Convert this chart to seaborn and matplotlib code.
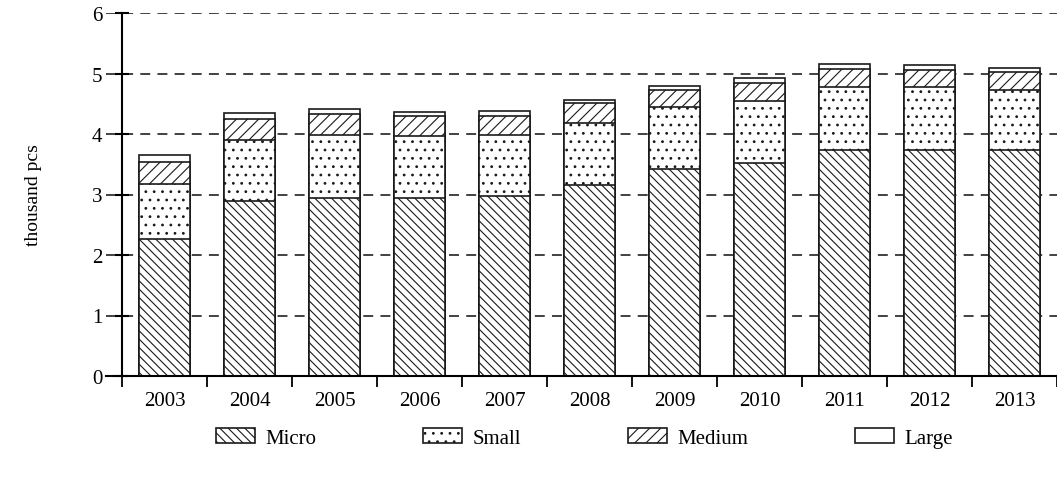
import matplotlib
matplotlib.use("Agg")
import matplotlib.pyplot as plt
import numpy as np
import pandas as pd
import seaborn as sns

# Enterprise counts by size class, thousand pieces
years = ["2003", "2004", "2005", "2006", "2007", "2008",
         "2009", "2010", "2011", "2012", "2013"]
micro = [2.26, 2.89, 2.94, 2.94, 2.97, 3.16, 3.42, 3.52, 3.73, 3.74, 3.74]
small = [0.92, 1.01, 1.05, 1.03, 1.01, 1.02, 1.02, 1.03, 1.05, 1.03, 0.99]
medium = [0.35, 0.35, 0.34, 0.32, 0.32, 0.33, 0.28, 0.30, 0.29, 0.29, 0.29]
large = [0.12, 0.09, 0.08, 0.08, 0.08, 0.06, 0.08, 0.08, 0.08, 0.08, 0.07]
y_ticks = [0, 1, 2, 3, 4, 5, 6]

df = pd.DataFrame({"year": years, "Micro": micro, "Small": small,
                   "Medium": medium, "Large": large})
# cumulative tops of each stacked segment
df["top_micro"] = df["Micro"]
df["top_small"] = df["top_micro"] + df["Small"]
df["top_medium"] = df["top_small"] + df["Medium"]
df["top_large"] = df["top_medium"] + df["Large"]

sns.set_theme(style="white")
plt.rcParams["font.family"] = ["Liberation Serif", "DejaVu Serif"]
plt.rcParams["hatch.linewidth"] = 0.8

fig = plt.figure(figsize=(10.57, 4.81), dpi=100)
ax = fig.add_axes([106 / 1057, 1 - 377 / 481, 951 / 1057, 363 / 481])

edge = "#1a1a1a"
layers = [
    ("Large", "top_large", ""),
    ("Medium", "top_medium", "///"),
    ("Small", "top_small", ".."),
    ("Micro", "top_micro", "\\\\\\\\"),
]
# draw tallest first; each lower segment is painted over it
for name, col, hatch in layers:
    sns.barplot(data=df, x="year", y=col, color="white", saturation=1,
                edgecolor=edge, linewidth=1.2, hatch=hatch, width=0.6,
                errorbar=None, ax=ax)

containers = list(ax.containers)
names = [l[0] for l in layers]
order = ["Micro", "Small", "Medium", "Large"]
handles = [containers[names.index(n)] for n in order]

ax.set_xlim(-0.688, 10.477)
ax.set_ylim(0, 6)
ax.set_yticks(y_ticks)
ax.set_xlabel("")
ax.set_ylabel("thousand pcs", fontsize=14, color="black")
ax.yaxis.set_label_coords(-0.067, 0.5)

for s in ["top", "right"]:
    ax.spines[s].set_visible(False)
for s in ["left", "bottom"]:
    ax.spines[s].set_color("black")
    ax.spines[s].set_linewidth(1.5)
ax.spines["left"].set_position(("data", -0.5))

ax.set_xticks(range(len(years)))
ax.set_xticklabels(years)
ax.set_xticks(np.arange(-0.5, len(years), 1), minor=True)
ax.tick_params(axis="x", which="major", length=0, pad=11,
               labelsize=15, labelcolor="black")
ax.tick_params(axis="x", which="minor", length=8, width=1.3,
               direction="out", color="black", bottom=True)
ax.tick_params(axis="y", which="major", length=10, width=1.5,
               direction="inout", color="black", labelsize=15,
               labelcolor="black", pad=9, left=True)

ax.yaxis.grid(True, linestyle=(0, (5.5, 4)), color="#333333", linewidth=1.3)
ax.xaxis.grid(False)
ax.set_axisbelow(True)

fig.legend(handles, order, loc="center", ncol=4,
           bbox_to_anchor=(0.553, 0.087), bbox_transform=fig.transFigure,
           frameon=False, fontsize=15, handlelength=1.87, handleheight=0.7,
           handletextpad=0.53, columnspacing=5.1, labelcolor="black")

fig.savefig("out.png", dpi=100)
